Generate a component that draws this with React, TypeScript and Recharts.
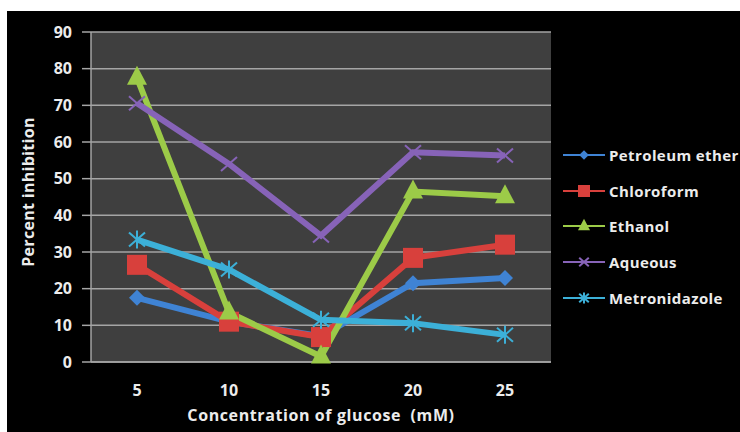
import React from 'react';
import {
  LineChart,
  Line,
  XAxis,
  YAxis,
  CartesianGrid,
  Label,
} from 'recharts';

// glucose concentrations (mM)
const concentrations = ['5', '10', '15', '20', '25'];

// percent inhibition per extract
const petroleumEther = [17.5, 11, 7, 21.5, 22.9];
const chloroform = [26.5, 11, 6.8, 28.4, 32];
const ethanol = [77.5, 13.5, 1.5, 46.5, 45.2];
const aqueous = [70.6, 54, 34.5, 57.2, 56.3];
const metronidazole = [33.4, 25.2, 11.5, 10.6, 7.4];

const yTicks = [0, 10, 20, 30, 40, 50, 60, 70, 80, 90];

const seriesNames = ['Petroleum ether', 'Chloroform', 'Ethanol', 'Aqueous', 'Metronidazole'];

const chartData = concentrations.map((c, i) => ({
  conc: c,
  pet: petroleumEther[i],
  chl: chloroform[i],
  eth: ethanol[i],
  aq: aqueous[i],
  met: metronidazole[i],
}));

const FONT = '"Open Sans", "Liberation Sans", sans-serif';
const TEXT = '#ececec';

type Shape = 'diamond' | 'square' | 'triangle' | 'cross' | 'star';

const series: { key: string; name: string; color: string; shape: Shape }[] = [
  { key: 'pet', name: seriesNames[0], color: '#3f83d4', shape: 'diamond' },
  { key: 'chl', name: seriesNames[1], color: '#d8403c', shape: 'square' },
  { key: 'eth', name: seriesNames[2], color: '#9ccb48', shape: 'triangle' },
  { key: 'aq', name: seriesNames[3], color: '#8763b8', shape: 'cross' },
  { key: 'met', name: seriesNames[4], color: '#3cb0d8', shape: 'star' },
];

const marker = (shape: Shape, color: string, cx: number, cy: number, s = 1) => {
  switch (shape) {
    case 'diamond':
      return (
        <polygon
          points={`${cx},${cy - 8 * s} ${cx + 8 * s},${cy} ${cx},${cy + 8 * s} ${cx - 8 * s},${cy}`}
          fill={color}
        />
      );
    case 'square':
      return <rect x={cx - 10 * s} y={cy - 10 * s} width={20 * s} height={20 * s} fill={color} />;
    case 'triangle':
      return (
        <polygon
          points={`${cx},${cy - 12 * s} ${cx + 10 * s},${cy + 7 * s} ${cx - 10 * s},${cy + 7 * s}`}
          fill={color}
        />
      );
    case 'cross':
      return (
        <g stroke={color} strokeWidth={2}>
          <line x1={cx - 8 * s} y1={cy - 7 * s} x2={cx + 8 * s} y2={cy + 7 * s} />
          <line x1={cx - 8 * s} y1={cy + 7 * s} x2={cx + 8 * s} y2={cy - 7 * s} />
        </g>
      );
    case 'star':
      return (
        <g stroke={color} strokeWidth={2}>
          <line x1={cx - 8 * s} y1={cy - 7 * s} x2={cx + 8 * s} y2={cy + 7 * s} />
          <line x1={cx - 8 * s} y1={cy + 7 * s} x2={cx + 8 * s} y2={cy - 7 * s} />
          <line x1={cx} y1={cy - 9 * s} x2={cx} y2={cy + 9 * s} />
        </g>
      );
  }
};

const makeDot = (shape: Shape, color: string) => (props: any) => {
  const { cx, cy, index } = props;
  if (cx == null || cy == null) return <g key={index} />;
  return <g key={`${shape}-${index}`}>{marker(shape, color, cx, cy)}</g>;
};

// legend sits to the right of the plot, outside the svg
const LegendBox = () => (
  <div
    style={{
      position: 'absolute',
      left: 556,
      top: 126,
      fontFamily: FONT,
      fontWeight: 700,
      fontSize: 15,
      color: TEXT,
      letterSpacing: 0.4,
    }}
  >
    {series.map((s) => (
      <div key={s.key} style={{ display: 'flex', alignItems: 'center', height: 35.7, whiteSpace: 'nowrap' }}>
        <svg width={46} height={20} style={{ flex: 'none' }}>
          <line x1={0} y1={10} x2={42} y2={10} stroke={s.color} strokeWidth={2} />
          {marker(s.shape, s.color, 21, 10, 0.6)}
        </svg>
        <span>{s.name}</span>
      </div>
    ))}
  </div>
);

const App = () => {
  return (
    <div
      style={{
        position: 'absolute',
        left: 7,
        top: 11,
        width: 733,
        height: 421,
        background: '#000',
        overflow: 'hidden',
      }}
    >
      <LineChart
        width={733}
        height={421}
        data={chartData}
        margin={{ top: 21, right: 189, bottom: 40, left: 0 }}
      >
        <CartesianGrid vertical={false} stroke="#a5a5a5" strokeWidth={1.5} fill="#3f3f3f" />
        <XAxis
          dataKey="conc"
          height={30}
          padding={{ left: 46, right: 46 }}
          axisLine={{ stroke: '#a5a5a5', strokeWidth: 1.5 }}
          tickLine={false}
          tickSize={0}
          tickMargin={23}
          tick={{ fill: TEXT, fontFamily: FONT, fontWeight: 700, fontSize: 16 }}
        >
          <Label
            content={() => (
              <text
                x={314}
                y={406}
                textAnchor="middle"
                dominantBaseline="middle"
                fill={TEXT}
                fontFamily={FONT}
                fontWeight={700}
                fontSize={16}
                letterSpacing={0.6}
                style={{ whiteSpace: 'pre' }}
              >
                {'Concentration of glucose  (mM)'}
              </text>
            )}
          />
        </XAxis>
        <YAxis
          width={84}
          domain={[0, 90]}
          ticks={yTicks}
          interval={0}
          axisLine={{ stroke: '#a5a5a5', strokeWidth: 1.5 }}
          tickLine={{ stroke: '#a5a5a5', strokeWidth: 1.5 }}
          tickSize={9}
          tickMargin={10}
          tick={{ fill: TEXT, fontFamily: FONT, fontWeight: 700, fontSize: 16 }}
        >
          <Label
            content={() => (
              <text
                x={23}
                y={181}
                transform="rotate(-90, 23, 181)"
                textAnchor="middle"
                dominantBaseline="middle"
                fill={TEXT}
                fontFamily={FONT}
                fontWeight={700}
                fontSize={16}
                letterSpacing={0.3}
              >
                Percent inhibition
              </text>
            )}
          />
        </YAxis>
        {series.map((s) => (
          <Line
            key={s.key}
            type="linear"
            dataKey={s.key}
            name={s.name}
            stroke={s.color}
            strokeWidth={6}
            dot={makeDot(s.shape, s.color)}
            activeDot={false}
            isAnimationActive={false}
          />
        ))}
      </LineChart>
      <LegendBox />
    </div>
  );
};

export default App;
